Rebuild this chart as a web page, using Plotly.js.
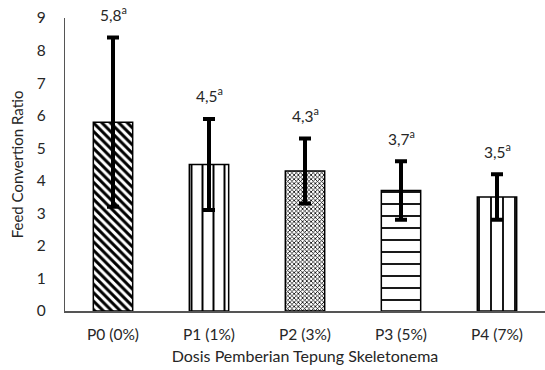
<!DOCTYPE html>
<html><head><meta charset="utf-8">
<script src="https://cdn.plot.ly/plotly-3.0.1.min.js"></script>
<style>html,body{margin:0;padding:0;background:#fff}#c{width:545px;height:370px}</style>
</head><body><div id="c"></div>
<script>
const categories = ["P0 (0%)", "P1 (1%)", "P2 (3%)", "P3 (5%)", "P4 (7%)"];
const fcr = [5.8, 4.5, 4.3, 3.7, 3.5];
const sd = [2.6, 1.4, 1.0, 0.9, 0.7];
const letters = ["a", "a", "a", "a", "a"];
const valueLabels = ["5,8", "4,5", "4,3", "3,7", "3,5"];

const shapes = ["\\", "|", "x", "-", "|"];
const psize = [6, 11, 3, 12, 12];
const psol = [0.5, 0.18, 0.45, 0.15, 0.15];

const font = "Lato, 'Open Sans', sans-serif";
const tc = "#262626";

const trace = {
  type: "bar",
  x: categories,
  y: fcr,
  width: 0.41,
  marker: {
    color: "#ffffff",
    line: {color: "#000", width: 1.5},
    pattern: {shape: shapes, size: psize, solidity: psol, fgcolor: "#000", bgcolor: "#fff", fillmode: "replace"}
  },
  error_y: {type: "data", array: sd, visible: true, color: "#000", thickness: 4, width: 6},
  hoverinfo: "none"
};

const annotations = categories.map((c, i) => ({
  x: c, y: fcr[i] + sd[i], xref: "x", yref: "y",
  text: valueLabels[i] + "<sup>" + letters[i] + "</sup>",
  showarrow: false, yshift: 24,
  font: {family: font, size: 15.5, color: tc}
}));

const layout = {
  width: 545, height: 370,
  margin: {l: 65, r: 0, t: 18, b: 59},
  paper_bgcolor: "#fff", plot_bgcolor: "#fff",
  showlegend: false,
  font: {family: font, color: tc},
  xaxis: {
    showline: true, linecolor: "#555", linewidth: 1.5,
    tickfont: {family: font, size: 15.5, color: tc},
    ticks: "", showgrid: false, zeroline: false, ticklabelstandoff: 9,
    title: {text: "Dosis Pemberian Tepung Skeletonema", font: {family: font, size: 16, color: tc}, standoff: 8}
  },
  yaxis: {
    range: [0, 9], dtick: 1, showline: true, linecolor: "#555", linewidth: 1.2,
    showgrid: false, zeroline: false, ticks: "", ticklabelstandoff: 15,
    tickfont: {family: font, size: 15.5, color: tc},
    title: {text: "Feed Convertion Ratio", font: {family: font, size: 15, color: tc}, standoff: 9}
  },
  annotations: annotations
};

Plotly.newPlot("c", [trace], layout, {displayModeBar: false, staticPlot: true});
</script></body></html>
